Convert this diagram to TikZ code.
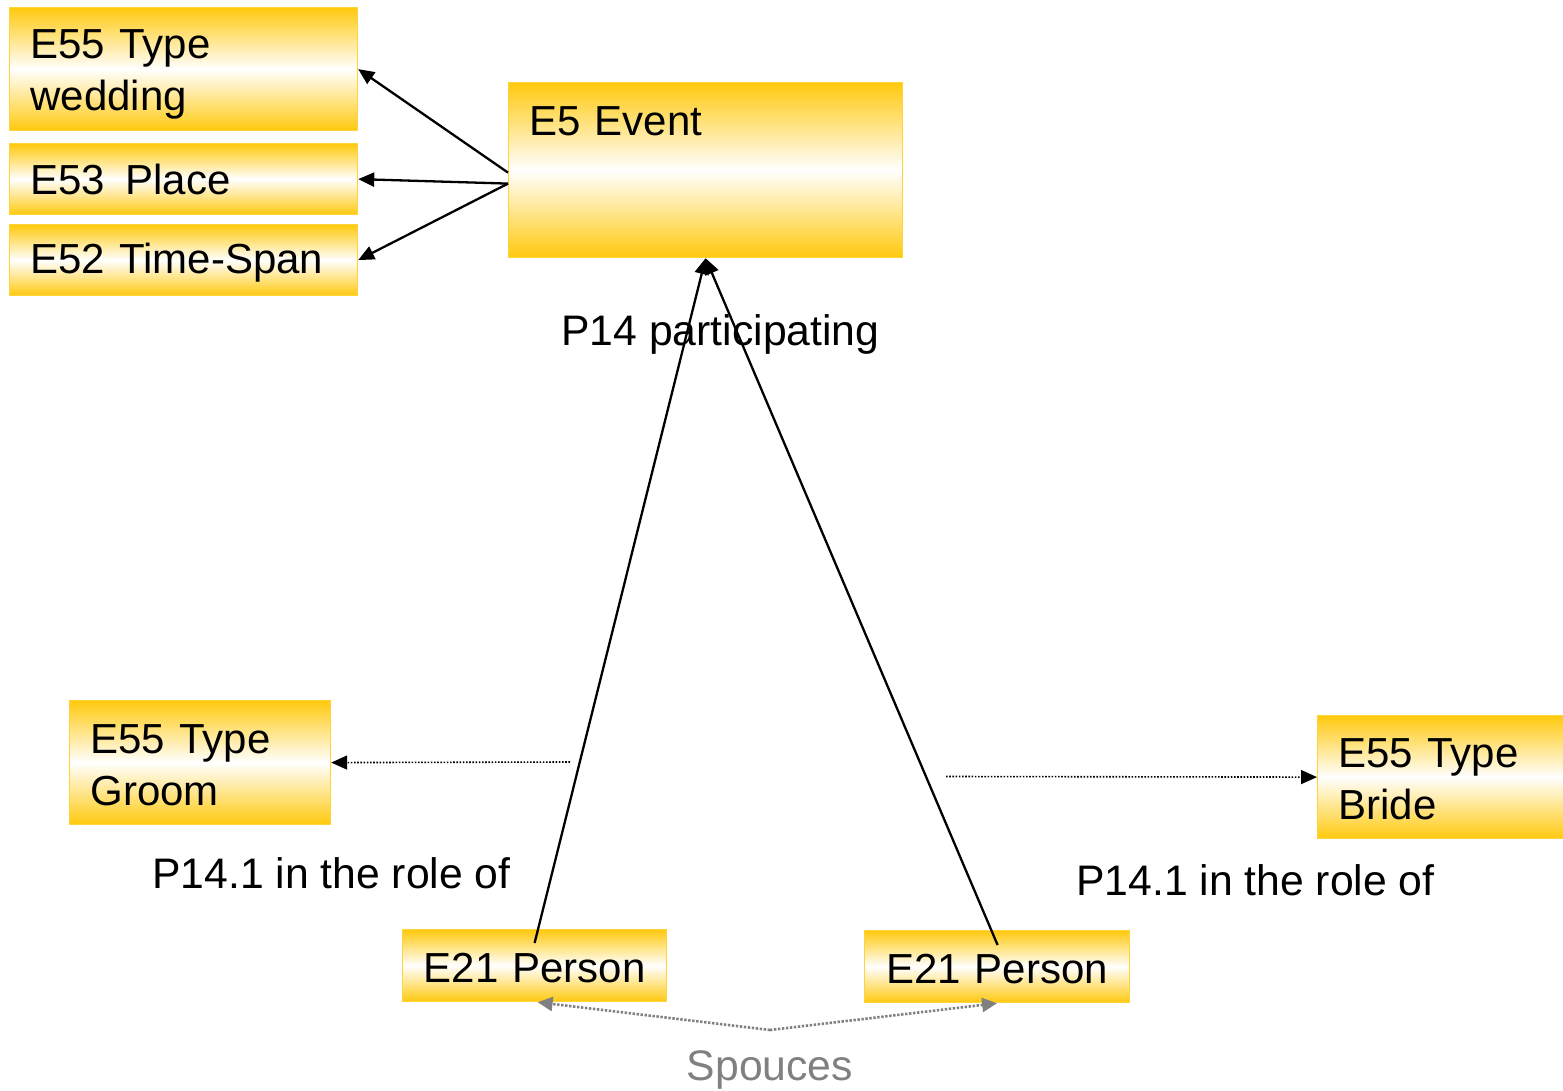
\documentclass[tikz,border=0pt]{standalone}
\usepackage{fontspec}
\setmainfont{Liberation Sans}
\usetikzlibrary{arrows.meta}
\definecolor{boxgold}{HTML}{FFC90E}
\definecolor{boxrim}{HTML}{FFD43A}
\definecolor{spousegray}{HTML}{808080}
% extra head room on a first line, to set the text a little lower in its box
\newcommand{\lowerby}[1]{\rule{0pt}{\dimexpr 30pt+#1\relax}}
\begin{document}
\begin{tikzpicture}[x=1pt,y=-1pt,
  entity/.style={draw=boxrim, line width=1.2pt, anchor=north west,
    top color=boxgold, bottom color=boxgold, middle color=white,
    inner xsep=21pt, inner ysep=0pt, align=left,
    font=\fontsize{42}{52}\selectfont},
  entityc/.style={entity, align=center},
  lbl/.style={font=\fontsize{42.7}{52}\selectfont, inner sep=0pt},
  link/.style={line width=2.3pt, -{Triangle[length=16pt,width=14pt]}},
  rolelink/.style={line width=1.6pt, dash pattern=on 1.6pt off 1.6pt,
    -{Triangle[length=16pt,width=14pt]}},
  spouselink/.style={draw=spousegray, line width=2.6pt, dash pattern=on 2.4pt off 1.6pt,
    -{Triangle[length=15pt,width=14pt,fill=spousegray]}}
]
\useasboundingbox (0,0) rectangle (1563,1091);
\clip (0,0) rectangle (1563,1091);

% entity boxes
\node[entity, text width=306pt, minimum height=123pt] (wedding) at (9,7) {\lowerby{10pt}E55 Type\\wedding};
\node[entity, text width=306pt, minimum height=71pt] (place) at (9,143) {E53\hspace{20pt}Place};
\node[entity, text width=306pt, minimum height=71pt] (span) at (9,224) {\lowerby{6pt}E52 Time-Span};
\node[entity, text width=352pt, text height=53pt, text depth=122pt] (event) at (508,82) {E5 Event};
\node[entity, text width=219pt, minimum height=124pt] (groom) at (69,700) {\lowerby{4pt}E55 Type\\Groom};
\node[entity, text width=220pt, minimum height=123pt] (bride) at (1317,715) {\lowerby{4pt}E55 Type\\Bride};
\node[entityc, text width=222pt, minimum height=72pt] (p1) at (402,929) {\lowerby{4pt}E21 Person};
\node[entityc, text width=223pt, minimum height=72pt] (p2) at (864,930) {\lowerby{4pt}E21 Person};

% property labels
\node[lbl, anchor=base] (partlbl) at (720.5,345) {P14 participating};
\node[lbl, anchor=base west] (rolel) at (152,888) {P14.1 in the role of};
\node[lbl, anchor=base west] (roler) at (1076,895) {P14.1 in the role of};
\node[lbl, anchor=base, text=spousegray] (spouses) at (770,1080) {Spouces};

% free ends of the dotted links
\coordinate (groomfrom) at (570,762);
\coordinate (bridefrom) at (946,776.5);
\coordinate (spousefrom) at (770,1030);

% event properties
\draw[link] ([yshift=-2.5pt]event.west) -- (wedding.east);
\draw[link] ([yshift=-13.5pt]event.west) -- (place.east);
\draw[link] ([yshift=-13.5pt]event.west) -- (span.east);

% participation
\draw[link] ([yshift=-14pt]p1.north) -- (event.south);
\draw[link] ([xshift=0.5pt,yshift=-15pt]p2.north) -- (event.south);

% roles
\draw[rolelink] (groomfrom) -- (groom.east);
\draw[rolelink] (bridefrom) -- (bride.west);

% spouses
\draw[spouselink] (spousefrom) -- ([xshift=3pt]p1.south);
\draw[spouselink] (spousefrom) -- (p2.south);
\end{tikzpicture}
\end{document}
